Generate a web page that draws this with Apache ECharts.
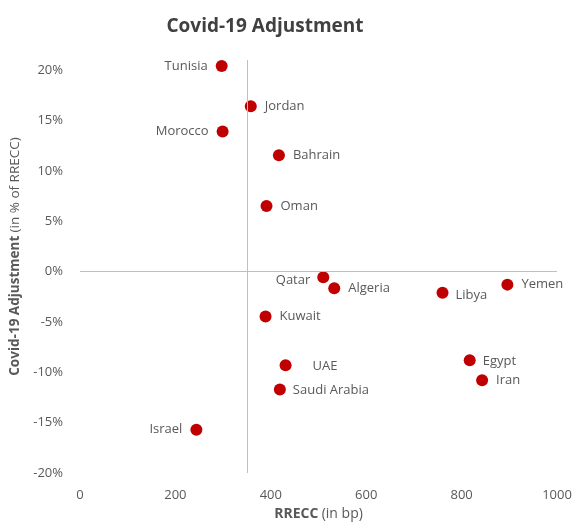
<!DOCTYPE html>
<html><head><meta charset="utf-8">
<script src="https://cdn.jsdelivr.net/npm/echarts@6/dist/echarts.min.js"></script>
<style>html,body{margin:0;padding:0;background:#fff}#c{width:579px;height:525px}</style>
</head><body><div id="c"></div>
<script>
const countries = ["Tunisia","Jordan","Morocco","Bahrain","Oman","Qatar","Algeria","Libya","Yemen","Kuwait","UAE","Saudi Arabia","Egypt","Iran","Israel"];
const rrecc = [297,358,299,417,391,510,533,760,896,389,431,419,817,843,244];
const adjustment = [0.204,0.164,0.139,0.1155,0.065,-0.0056,-0.0165,-0.021,-0.013,-0.0446,-0.093,-0.117,-0.088,-0.108,-0.157];
const xTicks = [0,200,400,600,800,1000];
const yTicks = [-0.2,-0.15,-0.1,-0.05,0,0.05,0.1,0.15,0.2];
const yCross = 350;

const labelStyle = {
  "Tunisia": {position:"left", distance:8},
  "Morocco": {position:"left", distance:8},
  "Israel": {position:"left", distance:8},
  "Qatar": {position:"left", distance:7, offset:[0,3]},
  "UAE": {position:"right", distance:21, offset:[0,1]},
  "Libya": {position:"right", distance:7, offset:[0,3]},
  "Egypt": {position:"right", distance:7, offset:[0,1]},
  "Saudi Arabia": {position:"right", distance:7, offset:[0,1]}
};

const data = countries.map((n,i)=>{
  const ls = labelStyle[n] || {position:"right", distance:8};
  return {name:n, value:[rrecc[i], adjustment[i]], label:Object.assign({show:true}, ls)};
});

const font = "'Open Sans', 'Noto Sans', sans-serif";
const chart = echarts.init(document.getElementById('c'), null, {renderer:'canvas'});
chart.setOption({
  animation:false,
  title:{text:"Covid-19 Adjustment", left:260, top:12, textAlign:'center',
    textStyle:{fontFamily:font, fontWeight:'bold', fontSize:19, color:'#404040'}},
  grid:{left:80, right:22, top:60, bottom:52, outerBoundsMode:'none', containLabel:false},
  xAxis:{type:'value', min:xTicks[0], max:xTicks[xTicks.length-1], interval:200,
    axisLine:{show:false}, axisTick:{show:false}, splitLine:{show:false},
    axisLabel:{color:'#595959', fontFamily:font, fontSize:13, margin:16, formatter:v=>String(v)},
    name:'{b|RRECC} {n|(in bp)}', nameLocation:'middle', nameGap:34,
    nameTextStyle:{rich:{b:{fontWeight:'bold', color:'#595959', fontFamily:font, fontSize:14}, n:{color:'#595959', fontFamily:font, fontSize:14}}}
  },
  yAxis:{type:'value', min:yTicks[0], max:0.21, interval:0.05,
    axisLine:{show:false}, axisTick:{show:false}, splitLine:{show:false},
    axisLabel:{color:'#595959', fontFamily:font, fontSize:13, margin:17, showMaxLabel:false,
      formatter:v=>Math.round(v*100)+'%'},
    name:'{b|Covid-19 Adjustment} {n|(in % of RRECC)}', nameLocation:'middle', nameGap:49,
    nameTextStyle:{padding:[0,0,0,20], rich:{b:{fontWeight:'bold', color:'#595959', fontFamily:font, fontSize:13.5}, n:{color:'#595959', fontFamily:font, fontSize:13.5}}}
  },
  series:[{
    type:'scatter', symbolSize:12, data:data,
    itemStyle:{color:'#C00000', opacity:1},
    label:{color:'#595959', fontFamily:font, fontSize:13, formatter:'{b}'},
    markLine:{silent:true, symbol:'none', animation:false,
      lineStyle:{color:'#BFBFBF', width:1, type:'solid'}, label:{show:false},
      data:[{yAxis:0},{xAxis:yCross}]}
  }]
});
</script></body></html>
